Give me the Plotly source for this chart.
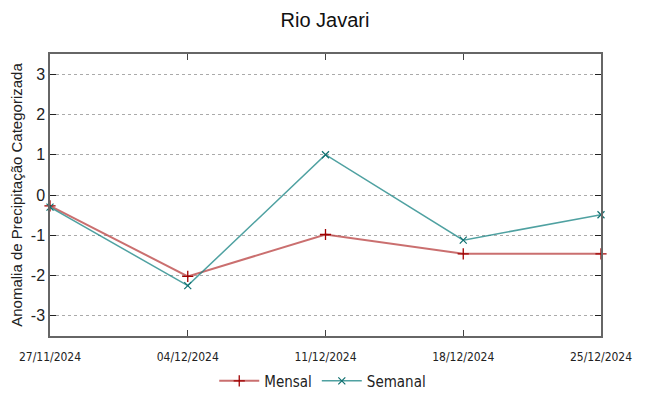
import plotly.graph_objects as go

dates = ["2024-11-27", "2024-12-04", "2024-12-11", "2024-12-18", "2024-12-25"]
tick_labels = ["27/11/2024", "04/12/2024", "11/12/2024", "18/12/2024", "25/12/2024"]
mensal = [-0.27, -2.02, -0.98, -1.46, -1.46]
semanal = [-0.30, -2.25, 1.00, -1.12, -0.49]
y_ticks = [-3, -2, -1, 0, 1, 2, 3]
y_tick_text = ["-3", "-2", "-1", "0", "1", "2", "3"]

narrow = "DejaVu Sans Condensed, Liberation Sans"

fig = go.Figure()
fig.add_trace(go.Scatter(
    x=dates, y=mensal, name="Mensal", mode="lines+markers",
    line=dict(color="rgba(180,50,50,0.7)", width=2),
    marker=dict(symbol="cross-thin", size=8, color="#a00000",
                line=dict(color="#a00000", width=1.3)),
    cliponaxis=False,
))
fig.add_trace(go.Scatter(
    x=dates, y=semanal, name="Semanal", mode="lines+markers",
    line=dict(color="rgba(20,130,130,0.75)", width=1.5),
    marker=dict(symbol="x-thin", size=7, color="#107070",
                line=dict(color="#107070", width=1.2)),
    cliponaxis=False,
))

fig.update_layout(
    width=641, height=388,
    margin=dict(l=42, r=48, t=46, b=60, autoexpand=False),
    paper_bgcolor="white", plot_bgcolor="white",
    title=dict(text="Rio Javari", x=0.4945, xanchor="center", y=0.969, yanchor="middle",
               font=dict(family="Liberation Sans", size=20, color="#111")),
    font=dict(family="Liberation Sans", color="#222"),
    showlegend=True,
    legend=dict(orientation="h", x=0.495, xanchor="center", y=-0.16, yanchor="middle",
                font=dict(family=narrow, size=15, color="#222"),
                itemwidth=40, bgcolor="rgba(0,0,0,0)"),
)
fig.update_xaxes(
    type="date", range=[dates[0], dates[-1]], automargin=False,
    tickvals=dates, ticktext=tick_labels,
    tickfont=dict(family=narrow, size=12, color="#222"),
    ticks="inside", ticklen=6, tickcolor="#444", ticklabelstandoff=9,
    showline=True, linecolor="#666", linewidth=1.5, mirror="allticks",
    showgrid=False, zeroline=False,
)
fig.update_yaxes(
    range=[-3.5, 3.5], tickvals=y_ticks, ticktext=y_tick_text, automargin=False,
    tickfont=dict(family="Liberation Sans", size=16, color="#222"),
    ticks="inside", ticklen=6, tickcolor="#222",
    showline=True, linecolor="#666", linewidth=1.5, mirror="allticks",
    showgrid=True, gridcolor="#aaaaaa", griddash="dot", gridwidth=1,
    zeroline=False,
    title=dict(text="Anomalia de Precipitação Categorizada",
               font=dict(family="Liberation Sans", size=15, color="#222"), standoff=6),
)

fig.write_html("out.html")
